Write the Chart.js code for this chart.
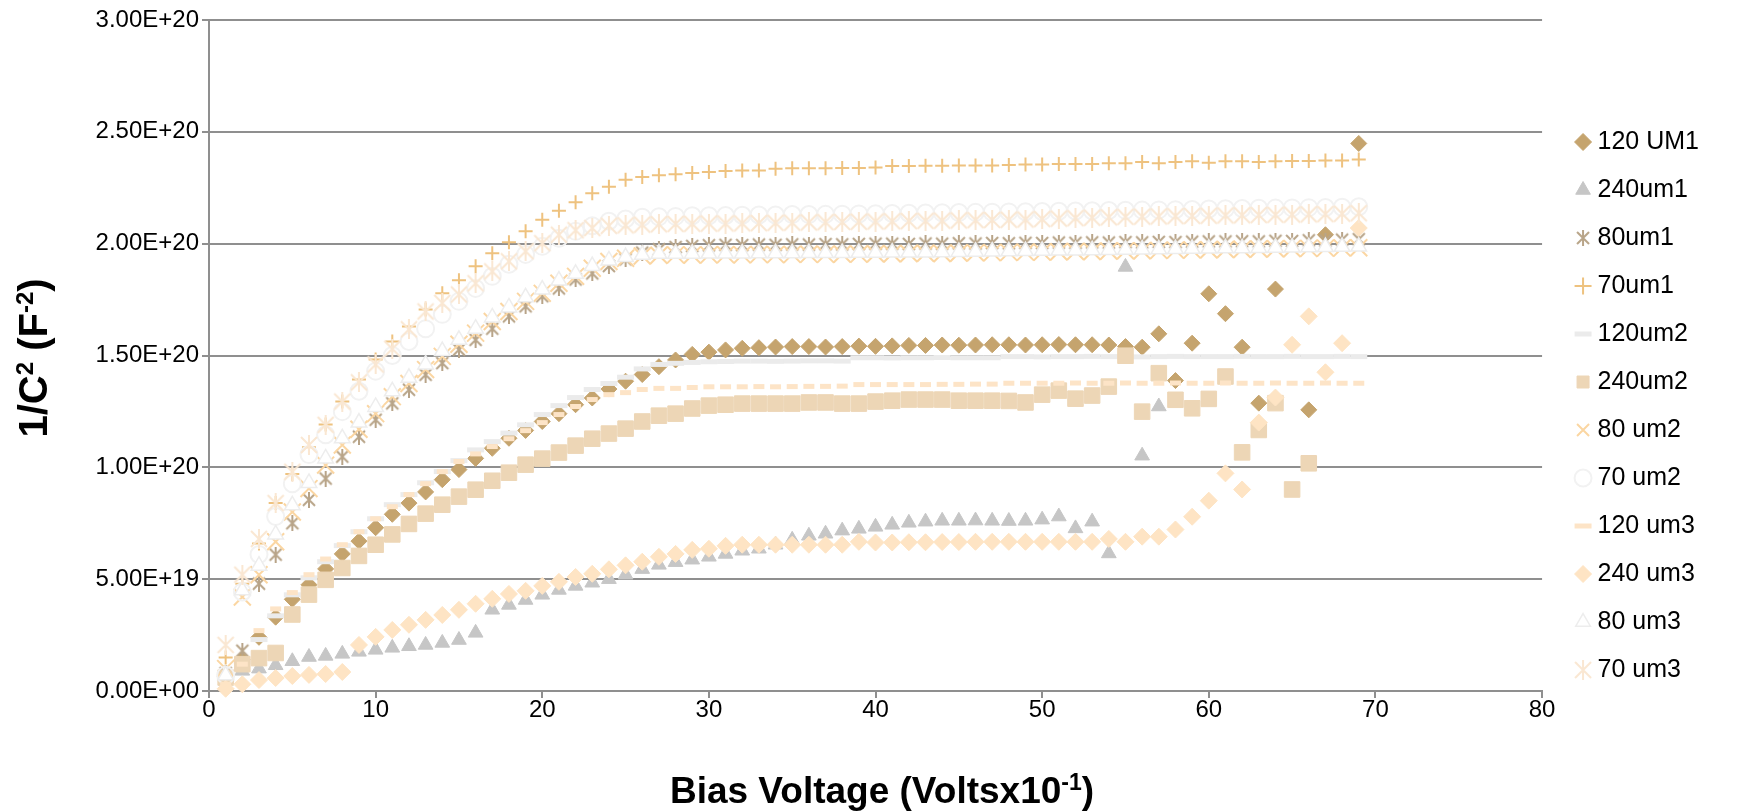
<!DOCTYPE html>
<html>
<head>
<meta charset="utf-8">
<title>1/C2 vs Bias Voltage</title>
<script src="https://cdn.jsdelivr.net/npm/chart.js@4.4.1/dist/chart.umd.min.js"></script>
<style>
  html, body { margin: 0; padding: 0; background: #ffffff; overflow: hidden; }
  #cvChart { display: block; }
</style>
</head>
<body>
<canvas id="cvChart" width="1752" height="812"></canvas>
<script>
// values, in units of 1E+20 F^-2
const UNIT = 1e20;

const voltage = [
    1, 2, 3, 4, 5, 6, 7, 8, 9, 10,
    11, 12, 13, 14, 15, 16, 17, 18, 19, 20,
    21, 22, 23, 24, 25, 26, 27, 28, 29, 30,
    31, 32, 33, 34, 35, 36, 37, 38, 39, 40,
    41, 42, 43, 44, 45, 46, 47, 48, 49, 50,
    51, 52, 53, 54, 55, 56, 57, 58, 59, 60,
    61, 62, 63, 64, 65, 66, 67, 68, 69
];

const seriesNames = ['120 UM1', '240um1', '80um1', '70um1', '120um2', '240um2',
                     '80 um2', '70 um2', '120 um3', '240 um3', '80 um3', '70 um3'];

const um120_1 = [
    0.05, 0.14, 0.24, 0.33, 0.41, 0.475, 0.546, 0.613, 0.67, 0.73,
    0.79, 0.84, 0.89, 0.945, 0.99, 1.04, 1.085, 1.13, 1.165, 1.205,
    1.24, 1.28, 1.31, 1.35, 1.385, 1.415, 1.45, 1.48, 1.505, 1.515,
    1.525, 1.532, 1.535, 1.538, 1.54, 1.54, 1.538, 1.54, 1.542, 1.541,
    1.543, 1.545, 1.545, 1.547, 1.546, 1.547, 1.548, 1.548, 1.547, 1.548,
    1.549, 1.548, 1.548, 1.547, 1.54, 1.537, 1.597, 1.388, 1.555, 1.776,
    1.687, 1.537, 1.287, 1.797, null, 1.257, 2.04, null, 2.448
];
const um240_1 = [
    0.05, 0.09, 0.10, 0.115, 0.133, 0.152, 0.157, 0.166, 0.175, 0.184,
    0.193, 0.20, 0.206, 0.215, 0.228, 0.26, 0.363, 0.385, 0.407, 0.43,
    0.452, 0.47, 0.484, 0.50, 0.52, 0.545, 0.564, 0.576, 0.587, 0.60,
    0.613, 0.627, 0.636, 0.654, 0.676, 0.694, 0.703, 0.717, 0.725, 0.734,
    0.743, 0.752, 0.757, 0.761, 0.761, 0.762, 0.761, 0.76, 0.761, 0.766,
    0.78, 0.727, 0.757, 0.615, 1.896, 1.052, 1.272, null, null, null,
    null, null, null, null, null, null, null, null, null
];
const um80_1 = [
    0.08, 0.18, 0.48, 0.61, 0.75, 0.855, 0.95, 1.048, 1.137, 1.213,
    1.286, 1.347, 1.414, 1.466, 1.526, 1.57, 1.62, 1.675, 1.72, 1.765,
    1.80, 1.84, 1.867, 1.90, 1.93, 1.96, 1.975, 1.985, 1.99, 1.993,
    1.995, 1.994, 1.996, 1.995, 1.997, 1.996, 1.998, 1.997, 1.999, 2.0,
    2.0, 1.999, 2.001, 2.0, 2.002, 2.001, 2.003, 2.002, 2.004, 2.003,
    2.005, 2.004, 2.006, 2.005, 2.007, 2.006, 2.008, 2.007, 2.009, 2.01,
    2.01, 2.011, 2.01, 2.013, 2.012, 2.015, 2.014, 2.018, 2.02
];
const um70_1 = [
    0.15, 0.48, 0.66, 0.84, 0.97, 1.09, 1.191, 1.294, 1.393, 1.482,
    1.563, 1.63, 1.706, 1.778, 1.836, 1.899, 1.957, 2.006, 2.056, 2.107,
    2.147, 2.185, 2.225, 2.255, 2.286, 2.298, 2.306, 2.31, 2.316, 2.32,
    2.325, 2.327, 2.327, 2.335, 2.337, 2.337, 2.337, 2.338, 2.338, 2.34,
    2.347, 2.347, 2.348, 2.348, 2.35, 2.35, 2.35, 2.352, 2.354, 2.354,
    2.356, 2.356, 2.356, 2.36, 2.36, 2.365, 2.36, 2.365, 2.368, 2.362,
    2.368, 2.368, 2.365, 2.368, 2.37, 2.37, 2.372, 2.372, 2.376
];
const um120_2 = [
    0.054, 0.13, 0.23, 0.336, 0.43, 0.506, 0.578, 0.65, 0.712, 0.77,
    0.833, 0.878, 0.931, 0.981, 1.03, 1.078, 1.115, 1.153, 1.19, 1.236,
    1.276, 1.312, 1.348, 1.375, 1.403, 1.44, 1.46, 1.465, 1.469, 1.472,
    1.473, 1.475, 1.475, 1.474, 1.475, 1.476, 1.476, 1.475, 1.49, 1.49,
    1.489, 1.49, 1.49, 1.491, 1.49, 1.49, 1.49, 1.495, 1.495, 1.494,
    1.495, 1.495, 1.496, 1.495, 1.495, 1.494, 1.495, 1.496, 1.495, 1.495,
    1.495, 1.496, 1.495, 1.495, 1.496, 1.495, 1.495, 1.496, 1.495
];
const um240_2 = [
    0.06, 0.12, 0.147, 0.17, 0.342, 0.431, 0.497, 0.55, 0.604, 0.654,
    0.70, 0.747, 0.793, 0.833, 0.869, 0.90, 0.94, 0.976, 1.012, 1.039,
    1.066, 1.097, 1.128, 1.151, 1.173, 1.205, 1.231, 1.24, 1.263, 1.276,
    1.28, 1.285, 1.285, 1.285, 1.285, 1.29, 1.29, 1.285, 1.285, 1.294,
    1.298, 1.303, 1.303, 1.303, 1.298, 1.298, 1.298, 1.297, 1.29, 1.325,
    1.343, 1.307, 1.321, 1.361, 1.499, 1.249, 1.421, 1.302, 1.264, 1.306,
    1.406, 1.067, 1.167, 1.287, 0.901, 1.018, null, null, null
];
const um80_2 = [
    0.10, 0.42, 0.52, 0.667, 0.80, 0.905, 1.01, 1.10, 1.17, 1.24,
    1.316, 1.375, 1.437, 1.496, 1.55, 1.60, 1.652, 1.697, 1.742, 1.778,
    1.823, 1.854, 1.89, 1.92, 1.935, 1.945, 1.948, 1.95, 1.949, 1.95,
    1.951, 1.95, 1.952, 1.951, 1.952, 1.953, 1.952, 1.954, 1.953, 1.955,
    1.955, 1.956, 1.957, 1.956, 1.958, 1.959, 1.96, 1.961, 1.962, 1.962,
    1.964, 1.965, 1.965, 1.967, 1.968, 1.968, 1.97, 1.971, 1.972, 1.973,
    1.974, 1.975, 1.976, 1.977, 1.978, 1.979, 1.98, 1.981, 1.982
];
const um70_2 = [
    0.07, 0.443, 0.61, 0.78, 0.927, 1.057, 1.146, 1.249, 1.34, 1.43,
    1.50, 1.563, 1.62, 1.684, 1.742, 1.80, 1.854, 1.908, 1.952, 1.988,
    2.024, 2.055, 2.08, 2.10, 2.11, 2.118, 2.12, 2.122, 2.125, 2.125,
    2.126, 2.127, 2.128, 2.128, 2.13, 2.13, 2.131, 2.132, 2.133, 2.134,
    2.135, 2.136, 2.137, 2.138, 2.139, 2.14, 2.141, 2.142, 2.143, 2.144,
    2.145, 2.146, 2.147, 2.148, 2.149, 2.15, 2.151, 2.152, 2.153, 2.155,
    2.156, 2.157, 2.158, 2.159, 2.16, 2.161, 2.162, 2.163, 2.165
];
const um120_3 = [
    0.03, 0.12, 0.27, 0.367, 0.44, 0.52, 0.59, 0.654, 0.712, 0.77,
    0.824, 0.878, 0.927, 0.981, 1.026, 1.06, 1.093, 1.128, 1.164, 1.20,
    1.236, 1.272, 1.303, 1.325, 1.334, 1.348, 1.353, 1.353, 1.357, 1.36,
    1.36, 1.36, 1.361, 1.36, 1.361, 1.362, 1.362, 1.363, 1.37, 1.37,
    1.37, 1.37, 1.37, 1.371, 1.371, 1.372, 1.372, 1.376, 1.376, 1.376,
    1.376, 1.377, 1.376, 1.376, 1.377, 1.376, 1.376, 1.377, 1.376, 1.376,
    1.377, 1.376, 1.376, 1.377, 1.376, 1.376, 1.377, 1.376, 1.376
];
const um240_3 = [
    0.01, 0.03, 0.049, 0.058, 0.067, 0.072, 0.076, 0.085, 0.206, 0.242,
    0.273, 0.296, 0.318, 0.34, 0.363, 0.39, 0.412, 0.434, 0.448, 0.47,
    0.488, 0.51, 0.524, 0.544, 0.562, 0.578, 0.60, 0.613, 0.631, 0.636,
    0.649, 0.654, 0.654, 0.654, 0.654, 0.654, 0.654, 0.654, 0.667, 0.664,
    0.664, 0.665, 0.665, 0.666, 0.666, 0.667, 0.667, 0.667, 0.667, 0.667,
    0.667, 0.667, 0.667, 0.68, 0.667, 0.69, 0.69, 0.722, 0.779, 0.851,
    0.973, 0.901, 1.20, 1.312, 1.548, 1.675, 1.425, 1.555, 2.07
];
const um80_3 = [
    0.07, 0.45, 0.56, 0.70, 0.83, 0.93, 1.04, 1.13, 1.20, 1.27,
    1.34, 1.40, 1.46, 1.52, 1.57, 1.62, 1.67, 1.715, 1.76, 1.795,
    1.835, 1.865, 1.90, 1.925, 1.94, 1.95, 1.955, 1.955, 1.955, 1.956,
    1.956, 1.956, 1.957, 1.957, 1.957, 1.958, 1.958, 1.958, 1.959, 1.959,
    1.96, 1.96, 1.961, 1.962, 1.963, 1.964, 1.965, 1.966, 1.967, 1.968,
    1.969, 1.97, 1.971, 1.972, 1.973, 1.974, 1.975, 1.976, 1.977, 1.978,
    1.979, 1.98, 1.981, 1.982, 1.983, 1.984, 1.985, 1.986, 1.987
];
const um70_3 = [
    0.206, 0.52, 0.68, 0.84, 0.98, 1.10, 1.19, 1.294, 1.38, 1.46,
    1.53, 1.617, 1.697, 1.735, 1.773, 1.823, 1.876, 1.921, 1.966, 2.002,
    2.04, 2.06, 2.07, 2.08, 2.082, 2.085, 2.087, 2.088, 2.089, 2.09,
    2.09, 2.091, 2.092, 2.093, 2.094, 2.095, 2.096, 2.097, 2.098, 2.099,
    2.10, 2.101, 2.102, 2.103, 2.104, 2.105, 2.106, 2.107, 2.108, 2.11,
    2.112, 2.114, 2.116, 2.118, 2.12, 2.121, 2.122, 2.123, 2.124, 2.125,
    2.126, 2.127, 2.128, 2.129, 2.13, 2.131, 2.132, 2.134, 2.136
];

const allSeries = [um120_1, um240_1, um80_1, um70_1, um120_2, um240_2,
                   um80_2, um70_2, um120_3, um240_3, um80_3, um70_3];

const FONT = '"Liberation Sans", Arial, sans-serif';

// asterisk marker (X with a vertical bar), like the spreadsheet "star" marker
function asteriskMarker(size, color, width) {
    const c = document.createElement('canvas');
    c.width = size;
    c.height = size;
    const g = c.getContext('2d');
    g.strokeStyle = color;
    g.lineWidth = width;
    const m = size / 2, e = width;
    g.beginPath();
    g.moveTo(m, 0); g.lineTo(m, size);
    g.moveTo(e, e); g.lineTo(size - e, size - e);
    g.moveTo(size - e, e); g.lineTo(e, size - e);
    g.stroke();
    return c;
}

// marker style for each series, same order as seriesNames
const markerStyles = [
    { style: 'rectRot', radius: 8, fill: '#C5A46E', border: '#C5A46E', width: 1 },
    { style: 'triangle', radius: 8.5, fill: '#C6C6C6', border: '#C6C6C6', width: 1 },
    { style: asteriskMarker(16, '#B8A488', 2), radius: 8, fill: '#B8A488', border: '#B8A488', width: 2 },
    { style: 'cross', radius: 7, fill: '#EEC27F', border: '#EEC27F', width: 2 },
    { style: 'line', radius: 8.5, fill: '#EBEBEB', border: '#EBEBEB', width: 5 },
    { style: 'rect', radius: 11, fill: '#EDD6B6', border: '#EDD6B6', width: 1 },
    { style: 'crossRot', radius: 12, fill: '#FBD6A2', border: '#FBD6A2', width: 2 },
    { style: 'circle', radius: 8.5, fill: 'rgba(255,255,255,0)', border: '#F2F2F2', width: 2 },
    { style: 'line', radius: 5.5, fill: '#FDE4C7', border: '#FDE4C7', width: 5 },
    { style: 'rectRot', radius: 8.5, fill: '#FEE4C4', border: '#FEE4C4', width: 1 },
    { style: 'triangle', radius: 9, fill: '#FFFFFF', border: '#EDEDED', width: 1.5 },
    { style: asteriskMarker(20, '#FAE7D2', 2), radius: 10, fill: '#FAE7D2', border: '#FAE7D2', width: 2 }
];

function toSci(v) {
    if (v === 0) return '0.00E+00';
    const parts = v.toExponential(2).split('e');
    const exp = parseInt(parts[1], 10);
    return parts[0] + 'E' + (exp < 0 ? '-' : '+') + String(Math.abs(exp)).padStart(2, '0');
}

const datasets = allSeries.map((values, i) => {
    const m = markerStyles[i];
    return {
        label: seriesNames[i],
        data: voltage.map((x, k) => ({ x: x, y: values[k] === null ? null : values[k] * UNIT })),
        showLine: false,
        pointStyle: m.style,
        pointRadius: m.radius,
        pointBackgroundColor: m.fill,
        pointBorderColor: m.border,
        pointBorderWidth: m.width,
        backgroundColor: m.fill,
        borderColor: m.border,
        borderWidth: m.width,
        order: allSeries.length - 1 - i,
        clip: false
    };
});

// axis titles with superscripts
function drawTitle(ctx, parts, x, y, angle, size) {
    const base = 'bold ' + size + 'px ' + FONT;
    const sup = 'bold ' + Math.round(size * 0.61) + 'px ' + FONT;
    const rise = Math.round(size * 0.36);
    ctx.save();
    ctx.translate(x, y);
    ctx.rotate(angle);
    ctx.fillStyle = '#000000';
    ctx.textBaseline = 'alphabetic';
    ctx.textAlign = 'left';
    const widths = parts.map(p => {
        ctx.font = p[1] ? sup : base;
        return ctx.measureText(p[0]).width;
    });
    let pos = -widths.reduce((a, b) => a + b, 0) / 2;
    parts.forEach((p, i) => {
        ctx.font = p[1] ? sup : base;
        ctx.fillText(p[0], pos, p[1] ? -rise : 0);
        pos += widths[i];
    });
    ctx.restore();
}

const xTitleParts = [['Bias Voltage (Voltsx10', false], ['-1', true], [')', false]];
const yTitleParts = [['1/C', false], ['2', true], [' (F', false], ['-2', true], [')', false]];

const axisTitles = {
    id: 'axisTitles',
    afterDraw(chart) {
        drawTitle(chart.ctx, xTitleParts, 882, 803, 0, 37);
        drawTitle(chart.ctx, yTitleParts, 47, 358, -Math.PI / 2, 40);
    }
};

const GRID = '#8F8F8F';

new Chart(document.getElementById('cvChart'), {
    type: 'scatter',
    data: { datasets: datasets },
    plugins: [axisTitles],
    options: {
        responsive: false,
        devicePixelRatio: 1,
        animation: false,
        events: [],
        layout: { padding: { top: 0, left: 70, right: 43, bottom: 0 } },
        plugins: {
            tooltip: { enabled: false },
            legend: {
                position: 'right',
                align: 'center',
                labels: {
                    usePointStyle: true,
                    boxWidth: 4,
                    boxHeight: 12,
                    padding: 23,
                    color: '#000000',
                    font: { family: FONT, size: 25 },
                    sort: (a, b) => a.datasetIndex - b.datasetIndex
                }
            }
        },
        scales: {
            x: {
                type: 'linear',
                position: 'bottom',
                min: 0,
                max: 80,
                afterFit: s => { s.height = 121; },
                grid: { drawOnChartArea: false, drawTicks: true, tickLength: 7, color: GRID, lineWidth: 2 },
                border: { color: GRID, width: 2 },
                ticks: {
                    stepSize: 10,
                    maxRotation: 0,
                    padding: 0,
                    color: '#000000',
                    font: { family: FONT, size: 24, lineHeight: 1 }
                }
            },
            y: {
                type: 'linear',
                position: 'left',
                min: 0,
                max: 3e20,
                afterFit: s => { s.width = 139; },
                grid: { color: GRID, lineWidth: 2, tickLength: 7 },
                border: { color: GRID, width: 2 },
                ticks: {
                    stepSize: 5e19,
                    padding: 3,
                    color: '#000000',
                    font: { family: FONT, size: 24, lineHeight: '34px' },
                    callback: v => toSci(v)
                }
            },
            gap: {
                type: 'linear',
                position: 'right',
                display: true,
                afterFit: s => { s.width = 16; },
                grid: { display: false },
                border: { display: false },
                ticks: { display: false }
            }
        }
    }
});
</script>
</body>
</html>
